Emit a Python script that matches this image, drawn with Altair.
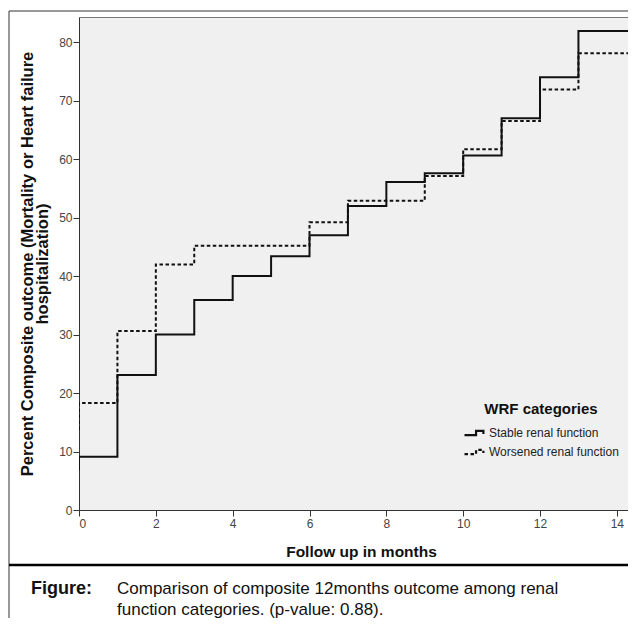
import altair as alt
import pandas as pd

# ---- data ----
series_names = ["Stable renal function", "Worsened renal function"]
months_stable = [0, 0, 1, 2, 3, 4, 5, 6, 7, 8, 9, 10, 11, 12, 13, 16]
pct_stable = [6.8, 9.1, 23.1, 30.0, 35.9, 40.0, 43.4, 47.0, 52.0, 56.1, 57.6, 60.6, 67.0, 74.0, 81.9, 81.9]
months_worse = [0, 0, 1, 2, 3, 6, 7, 9, 10, 11, 12, 13, 16]
pct_worse = [13.7, 18.3, 30.6, 42.0, 45.2, 49.2, 52.9, 57.1, 61.7, 66.5, 71.9, 78.1, 78.1]
x_ticks = [0, 2, 4, 6, 8, 10, 12, 14]
y_ticks = [0, 10, 20, 30, 40, 50, 60, 70, 80]
x_title = "Follow up in months"
y_title = ["Percent Composite outcome (Mortality or Heart failure", "hospitalization)"]
legend_title = "WRF categories"
caption_label = "Figure:"
caption_lines = ["Comparison of composite 12months outcome among renal",
                 "function categories. (p-value: 0.88)."]

rows = []
for i, (m, p) in enumerate(zip(months_stable, pct_stable)):
    rows.append({"month": m, "pct": p, "group": series_names[0], "idx": i})
for i, (m, p) in enumerate(zip(months_worse, pct_worse)):
    rows.append({"month": m, "pct": p, "group": series_names[1], "idx": i})
df = pd.DataFrame(rows)

W, H = 549, 493
AX = "Liberation Sans"
CAP = "Liberation Sans"

step_path = "M-1,0.2H0.1V-0.2H0.8V0.1"

lines = alt.Chart(df).mark_line(interpolate="step-after", color="#111", strokeWidth=2, clip=True).encode(
    x=alt.X("month:Q", scale=alt.Scale(domain=[0, 14.29], nice=False, zero=False),
            axis=alt.Axis(values=x_ticks, title=x_title, grid=False, tickSize=6, labelPadding=2,
                          labelFontSize=12, labelColor="#444", labelFont=AX,
                          domainColor="#333", tickColor="#333",
                          titleFont=AX, titleFontSize=15.5, titleFontWeight="bold", titleColor="#111",
                          titleX=282, titleY=41, titleBaseline="middle", titleAlign="center")),
    y=alt.Y("pct:Q", scale=alt.Scale(domain=[0, 84.3], nice=False),
            axis=alt.Axis(values=y_ticks, title=y_title, grid=False, tickSize=6, labelPadding=1,
                          labelFontSize=12, labelColor="#444", labelFont=AX,
                          domainColor="#333", tickColor="#333",
                          titleFont=AX, titleFontSize=16.5, titleFontWeight="bold", titleColor="#111",
                          titleX=-47, titleY=H / 2, titleAlign="center", titleBaseline="alphabetic",
                          titleLineHeight=15.5)),
    strokeDash=alt.StrokeDash("group:N",
                              scale=alt.Scale(domain=series_names, range=[[1, 0], [3.5, 2.5]]),
                              legend=alt.Legend(title=legend_title, orient="none", legendX=384, legendY=385,
                                                titleFont=AX, titleFontSize=15, titleFontWeight="bold",
                                                titleColor="#111", titleAnchor="middle", titlePadding=4,
                                                labelFont=AX, labelFontSize=12, labelColor="#222",
                                                labelOffset=2, rowPadding=0, padding=0,
                                                symbolType=step_path, symbolSize=441,
                                                symbolStrokeColor="#111", symbolStrokeWidth=2.2,
                                                symbolFillColor="transparent")),
    order="idx:Q",
)

one = pd.DataFrame({"k": [0]})
frame_top = alt.Chart(one).mark_rule(color="#333", strokeWidth=1).encode(
    x=alt.value(-70), x2=alt.value(W), y=alt.value(-6))
frame_left = alt.Chart(one).mark_rule(color="#333", strokeWidth=1).encode(
    x=alt.value(-70), y=alt.value(-6), y2=alt.value(H + 108))
frame_bottom = alt.Chart(one).mark_rule(color="#000", strokeWidth=2.5).encode(
    x=alt.value(-70), x2=alt.value(W), y=alt.value(548))

cap1 = alt.Chart(one).mark_text(text=caption_label, font=CAP, fontSize=18, fontWeight="bold",
                                align="left", baseline="alphabetic", color="#111").encode(
    x=alt.value(-48), y=alt.value(577))
cap2 = alt.Chart(one).mark_text(text=caption_lines[0], font=CAP, fontSize=17,
                                align="left", baseline="alphabetic", color="#111").encode(
    x=alt.value(38), y=alt.value(577))
cap3 = alt.Chart(one).mark_text(text=caption_lines[1], font=CAP, fontSize=17,
                                align="left", baseline="alphabetic", color="#111").encode(
    x=alt.value(38), y=alt.value(598))

chart = alt.layer(lines, frame_top, frame_left, frame_bottom, cap1, cap2, cap3).properties(
    width=W, height=H,
    autosize=alt.AutoSizeParams(type="none"),
    padding={"left": 71, "top": 9, "right": 0, "bottom": 108},
    background="white",
).configure_view(fill="#f0f0f0", stroke="#777", strokeWidth=1)

chart.save("out.html", embed_options={"renderer": "svg", "actions": False})
